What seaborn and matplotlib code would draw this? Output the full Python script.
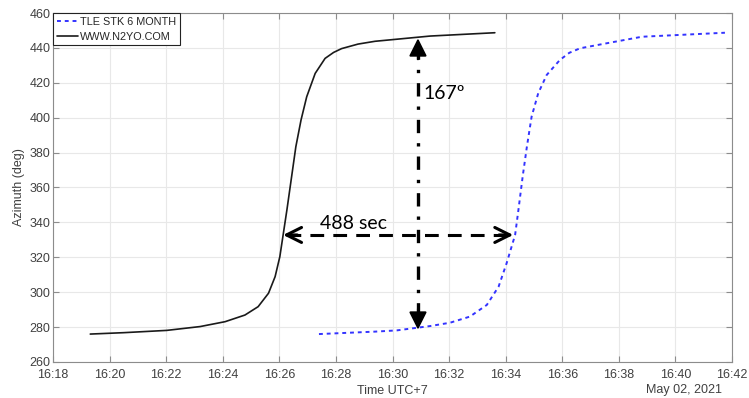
import matplotlib
matplotlib.use("Agg")
import matplotlib.pyplot as plt
import matplotlib.dates as mdates
import numpy as np
import pandas as pd
import seaborn as sns

# Azimuth tracks for the same pass (times are local, UTC+7, on 2021-05-02)
n2yo_time = ["16:19:19", "16:20:30", "16:22:01", "16:23:12", "16:24:05", "16:24:47",
             "16:25:15", "16:25:37", "16:25:51", "16:26:01", "16:26:08", "16:26:16",
             "16:26:26", "16:26:35", "16:26:46", "16:26:58", "16:27:16", "16:27:37",
             "16:27:55", "16:28:12", "16:28:47", "16:29:23", "16:31:20", "16:33:37"]
n2yo_az = [276.0, 276.8, 278.1, 280.3, 283.1, 286.9,
           291.7, 299.4, 308.9, 320.3, 332.8, 347.1,
           366.2, 383.4, 398.7, 412.0, 425.4, 434.0,
           437.4, 439.6, 442.2, 443.8, 446.8, 448.7]

stk_time = ["16:27:24", "16:29:23", "16:30:09", "16:31:20", "16:32:02", "16:32:44",
            "16:33:20", "16:33:45", "16:34:02", "16:34:20", "16:34:27", "16:34:36",
            "16:34:45", "16:34:55", "16:35:09", "16:35:27", "16:35:55", "16:36:15",
            "16:36:38", "16:37:41", "16:38:49", "16:41:45"]
stk_az = [276.0, 277.4, 278.1, 280.6, 282.5, 286.0,
          292.7, 303.2, 316.6, 332.8, 347.1, 366.2,
          383.4, 400.6, 414.0, 424.5, 433.1, 437.2,
          439.8, 443.0, 446.4, 448.7]

series_labels = ["TLE STK 6 MONTH", "WWW.N2YO.COM"]
date_text = "May 02, 2021"

# Annotated offsets
shift_sec = 488
shift_start = "16:26:08"
shift_az = 332.8
span_deg = 167
span_time = "16:30:54"
span_low = 278.5

day = "2021-05-02 "


def ts(t):
    return pd.to_datetime(day + t)


df_stk = pd.DataFrame({"time": [ts(t) for t in stk_time], "az": stk_az})
df_n2yo = pd.DataFrame({"time": [ts(t) for t in n2yo_time], "az": n2yo_az})

sns.set_theme(style="whitegrid")
plt.rcParams["font.family"] = ["Liberation Sans", "DejaVu Sans"]

fig = plt.figure(figsize=(7.49, 3.98), dpi=100)
ax = fig.add_axes([0.0708, 0.0905, 0.9065, 0.8768])
ax.set_facecolor("white")

sns.lineplot(data=df_stk, x="time", y="az", ax=ax, color="#3333ff",
             linewidth=1.4, linestyle=(0, (2, 2)), label=series_labels[0],
             estimator=None, sort=False)
sns.lineplot(data=df_n2yo, x="time", y="az", ax=ax, color="#1a1a1a",
             linewidth=1.2, label=series_labels[1], estimator=None, sort=False)

# Axis setup
ax.set_xlim(ts("16:18:00"), ts("16:42:00"))
ax.set_ylim(260, 460)
ax.set_yticks(np.arange(260, 461, 20))
ax.xaxis.set_major_locator(mdates.MinuteLocator(byminute=range(0, 60, 2)))
ax.xaxis.set_major_formatter(mdates.DateFormatter("%H:%M"))

ax.grid(True, color="#e8e8e8", linewidth=0.8)
for s in ax.spines.values():
    s.set_color("#8c8c8c")
    s.set_linewidth(0.8)
    s.set_visible(True)
ax.tick_params(axis="both", which="major", direction="in", length=4, width=0.8,
               color="#8c8c8c", labelsize=9, labelcolor="#404040",
               top=True, right=True, bottom=True, left=True, pad=2)
ax.tick_params(axis="x", pad=5)

ax.set_xlabel("Time UTC+7", fontsize=9, color="#404040", labelpad=3)
ax.set_ylabel("Azimuth (deg)", fontsize=9, color="#404040", labelpad=3)
fig.text(722 / 749, 1 - 390 / 398, date_text, ha="right", va="center",
         fontsize=9, color="#404040")

leg = ax.legend(loc="upper left", borderaxespad=0, fontsize=7.8, frameon=True,
                fancybox=False, edgecolor="#222222", framealpha=1,
                borderpad=0.35, labelspacing=0.45, handlelength=2.0,
                handletextpad=0.15)
leg.get_frame().set_linewidth(0.8)

# Horizontal time-offset arrow (dashed, open heads)
t0 = ts(shift_start)
t1 = t0 + pd.Timedelta(seconds=shift_sec)
ax.plot([t0 + pd.Timedelta(seconds=8), t1 - pd.Timedelta(seconds=8)],
        [shift_az, shift_az], color="black", linewidth=2.2,
        linestyle=(0, (4.5, 3)), zorder=5)
for tip, back in [(t0, t0 + pd.Timedelta(seconds=30)), (t1, t1 - pd.Timedelta(seconds=30))]:
    ax.annotate("", xy=(mdates.date2num(tip), shift_az),
                xytext=(mdates.date2num(back), shift_az),
                arrowprops=dict(arrowstyle="->,head_length=0.9,head_width=0.45",
                                color="black", lw=2.2, shrinkA=0, shrinkB=0),
                zorder=6)
ax.text(ts("16:27:26"), 339.5, f"{shift_sec} sec", fontsize=14,
        family=["Lato", "DejaVu Sans"], ha="left", va="center", color="black")

# Vertical azimuth-span arrow (dash-dot, filled heads)
tv = ts(span_time)
high = span_low + span_deg
ax.plot([tv, tv], [span_low + 8, high - 8], color="black", linewidth=2.4,
        linestyle=(0, (4, 3, 1, 3)), zorder=5)
for tip, back in [(span_low, span_low + 12), (high, high - 12)]:
    ax.annotate("", xy=(mdates.date2num(tv), tip),
                xytext=(mdates.date2num(tv), back),
                arrowprops=dict(arrowstyle="-|>,head_length=0.9,head_width=0.45",
                                color="black", lw=1.5, shrinkA=0, shrinkB=0),
                zorder=6)
ax.text(ts("16:31:06"), 414, f"{span_deg}\u00ba", fontsize=14,
        family=["Lato", "DejaVu Sans"], ha="left", va="center", color="black")

fig.savefig("out.png", dpi=100)
